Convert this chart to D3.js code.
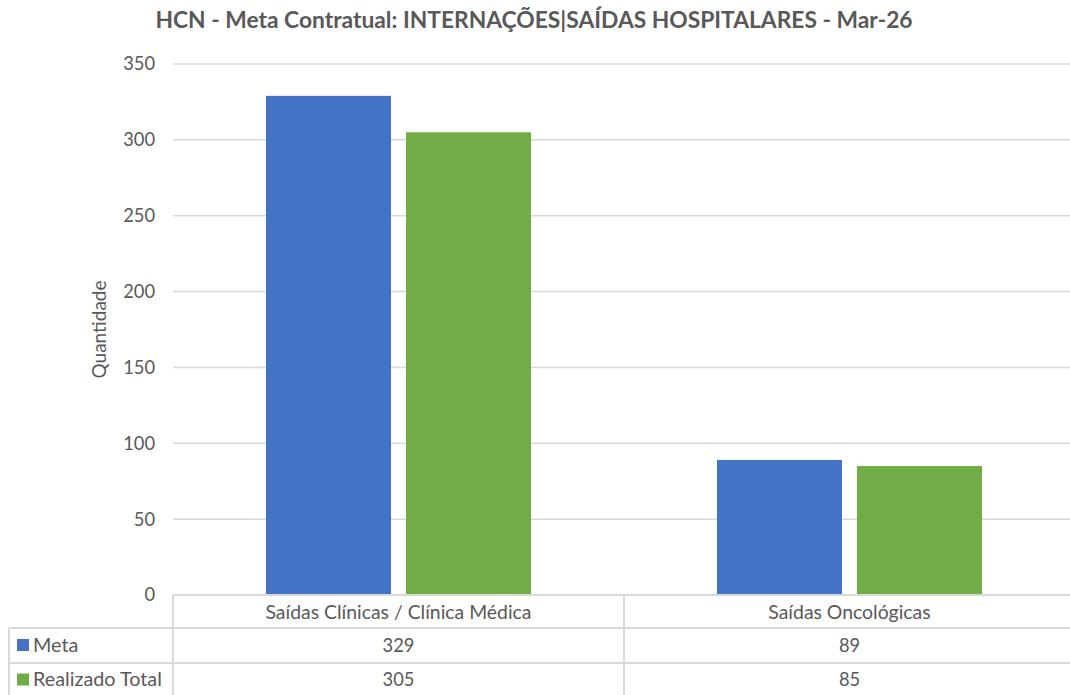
<!DOCTYPE html>
<html>
<head>
<meta charset="utf-8">
<script src="https://cdn.jsdelivr.net/npm/d3@7"></script>
<style>
  body { margin: 0; background: #fff; }
  svg text { font-family: Lato, "Open Sans", sans-serif; fill: #595959; }
</style>
</head>
<body>
<svg id="chart" width="1070" height="695"></svg>
<script>
// chart data
const categories = ['Saídas Clínicas / Clínica Médica', 'Saídas Oncológicas'];
const seriesNames = ['Meta', 'Realizado Total'];
const metaValues = [329, 89];
const realizadoValues = [305, 85];
const yTicks = [0, 50, 100, 150, 200, 250, 300, 350];

const colors = ['#4472c4', '#70ad47'];
const series = [metaValues, realizadoValues];

const svg = d3.select('#chart');
const plotLeft = 173, plotRight = 1075, plotTop = 64, plotBottom = 595;

const x = d3.scaleBand().domain(categories).range([plotLeft, plotRight]);
const x1 = d3.scaleBand().domain(seriesNames).range([0, x.bandwidth()])
  .paddingInner(0.107).paddingOuter(0.664);
const y = d3.scaleLinear().domain([0, 350]).range([plotBottom, plotTop]);

// title
svg.append('text')
  .attr('x', 534).attr('y', 28)
  .attr('text-anchor', 'middle')
  .style('font-weight', 'bold').style('font-size', '22.8px')
  .text('HCN - Meta Contratual: INTERNAÇÕES|SAÍDAS HOSPITALARES - Mar-26');

// gridlines
svg.append('g')
  .selectAll('line')
  .data(yTicks.filter(d => d > 0))
  .join('line')
  .attr('x1', plotLeft).attr('x2', plotRight)
  .attr('y1', d => y(d)).attr('y2', d => y(d))
  .attr('stroke', '#d9d9d9').attr('stroke-width', 1.5);

// y axis labels
const yAxis = svg.append('g')
  .attr('transform', `translate(${plotLeft - 18},0)`)
  .call(d3.axisLeft(y).tickValues(yTicks).tickSize(0).tickPadding(0));
yAxis.select('.domain').remove();
yAxis.selectAll('text').style('font-size', '18.3px').attr('fill', '#595959');

svg.append('text')
  .attr('transform', `translate(106,${(plotTop + plotBottom) / 2}) rotate(-90)`)
  .attr('text-anchor', 'middle')
  .style('font-size', '19px')
  .text('Quantidade');

// bars
svg.append('g')
  .selectAll('g')
  .data(series)
  .join('g')
  .attr('fill', (d, i) => colors[i])
  .each(function (vals, si) {
    d3.select(this).selectAll('rect')
      .data(vals)
      .join('rect')
      .attr('x', (v, ci) => x(categories[ci]) + x1(seriesNames[si]))
      .attr('width', x1.bandwidth())
      .attr('y', v => y(v))
      .attr('height', v => y(0) - y(v));
  });

// data table
const rowTop = [595, 628, 663];
const rowH = [33, 35, 34];
const tableLeft = 9;
const tbl = svg.append('g').attr('stroke', '#d9d9d9').attr('stroke-width', 2);
// horizontal lines
tbl.append('line').attr('x1', plotLeft).attr('x2', 1075).attr('y1', 595).attr('y2', 595);
tbl.append('line').attr('x1', tableLeft).attr('x2', 1075).attr('y1', 628).attr('y2', 628);
tbl.append('line').attr('x1', tableLeft).attr('x2', 1075).attr('y1', 663).attr('y2', 663);
tbl.append('line').attr('x1', tableLeft).attr('x2', 1075).attr('y1', 697).attr('y2', 697);
// vertical lines
tbl.append('line').attr('x1', tableLeft).attr('x2', tableLeft).attr('y1', 628).attr('y2', 697);
tbl.selectAll('line.v')
  .data(categories)
  .join('line')
  .attr('class', 'v')
  .attr('x1', d => x(d)).attr('x2', d => x(d))
  .attr('y1', 595).attr('y2', 697);

// header row
svg.append('g')
  .selectAll('text')
  .data(categories)
  .join('text')
  .attr('x', d => x(d) + x.bandwidth() / 2)
  .attr('y', 619)
  .attr('text-anchor', 'middle')
  .style('font-size', '19.4px')
  .text(d => d);

// series rows
series.forEach((vals, si) => {
  const cy = rowTop[si + 1] + rowH[si + 1] / 2;
  svg.append('rect')
    .attr('x', 17).attr('y', cy - 6.5)
    .attr('width', 12).attr('height', 12)
    .attr('fill', colors[si]);
  svg.append('text')
    .attr('x', 33).attr('y', cy + 6)
    .style('font-size', '19.8px')
    .text(seriesNames[si]);
  svg.append('g')
    .selectAll('text')
    .data(vals)
    .join('text')
    .attr('x', (v, ci) => x(categories[ci]) + x.bandwidth() / 2)
    .attr('y', cy + 6)
    .attr('text-anchor', 'middle')
    .style('font-size', '18.3px')
    .text(v => v);
});
</script>
</body>
</html>
